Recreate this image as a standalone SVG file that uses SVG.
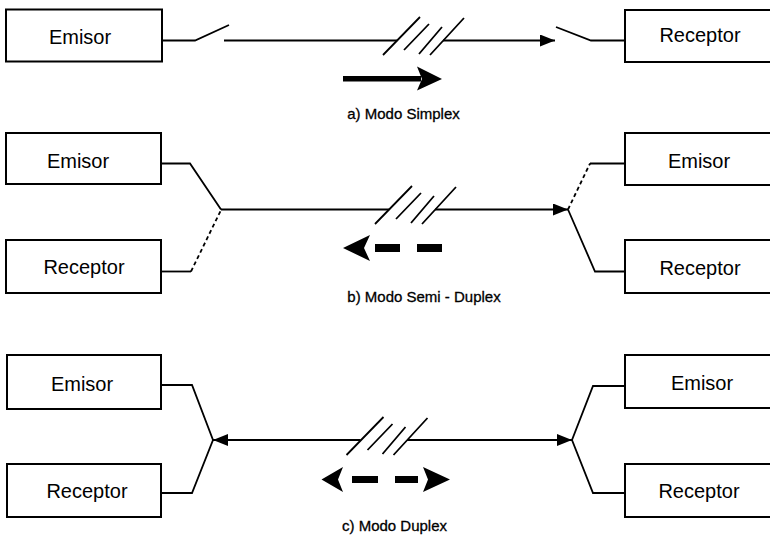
<svg xmlns="http://www.w3.org/2000/svg" width="770" height="539" viewBox="0 0 770 539">
<style>
.box{fill:#fff;stroke:#000;stroke-width:2}
.lbl{font-family:"Liberation Sans",Arial,sans-serif;font-size:20px;fill:#000;text-anchor:middle}
.cap{font-family:"Liberation Sans",Arial,sans-serif;font-size:15px;fill:#000;text-anchor:middle;stroke:#000;stroke-width:0.3}
.ln{fill:none;stroke:#000;stroke-width:1.8}
.dash{fill:none;stroke:#000;stroke-width:1.8;stroke-dasharray:4 3}
.big{fill:#000;stroke:none}
</style>
<defs>
<marker id="ah" markerUnits="userSpaceOnUse" markerWidth="16" markerHeight="13" refX="15" refY="6" orient="auto-start-reverse" viewBox="0 0 16 13">
<path d="M0,0 L15,6 L0,12 z" fill="#000"/>
</marker>
<g id="hatch" class="ln">
<path d="M0,0 L37,-38 M21,-5 L46,-31 M36,-1 L59,-28 M47,0 L81,-37"/>
</g>
</defs>

<rect width="770" height="539" fill="#fff"/>

<!-- a) Simplex -->
<g id="a-emisor"><rect class="box" x="6" y="9.5" width="156" height="52"/><text class="lbl" x="80" y="44">Emisor</text></g>
<g id="a-receptor"><rect class="box" x="625" y="10" width="150" height="52"/><text class="lbl" x="700" y="42">Receptor</text></g>

<!-- b) Semi-Duplex -->
<g id="b-emisor-l"><rect class="box" x="6" y="133" width="155" height="51"/><text class="lbl" x="78" y="168">Emisor</text></g>
<g id="b-receptor-l"><rect class="box" x="6" y="240" width="155" height="53"/><text class="lbl" x="84" y="274">Receptor</text></g>
<g id="b-emisor-r"><rect class="box" x="625" y="133" width="150" height="52"/><text class="lbl" x="699" y="168">Emisor</text></g>
<g id="b-receptor-r"><rect class="box" x="625" y="240" width="150" height="53"/><text class="lbl" x="700" y="275">Receptor</text></g>

<!-- c) Duplex -->
<g id="c-emisor-l"><rect class="box" x="7" y="355" width="154" height="54"/><text class="lbl" x="82" y="391">Emisor</text></g>
<g id="c-receptor-l"><rect class="box" x="7" y="464" width="154" height="53"/><text class="lbl" x="87" y="498">Receptor</text></g>
<g id="c-emisor-r"><rect class="box" x="625" y="355" width="150" height="53"/><text class="lbl" x="702" y="390">Emisor</text></g>
<g id="c-receptor-r"><rect class="box" x="625" y="464" width="150" height="53"/><text class="lbl" x="699" y="498">Receptor</text></g>

<g id="connectors">
<!-- a -->
<path class="ln" d="M162,40.5 L195,40.5 L229,25"/>
<path class="ln" d="M224,40.5 L397,40.5"/>
<use href="#hatch" x="383" y="55"/>
<path class="ln" d="M443,40.5 L555,40.5" marker-end="url(#ah)"/>
<path class="ln" d="M556,27 L591,40.5 L625,40.5"/>
<!-- b -->
<path class="ln" d="M161,163.5 L190,163.5 L221,209.5"/>
<path class="ln" d="M161,271.5 L191,271.5"/>
<path class="dash" d="M191,271.5 L221,210"/>
<path class="ln" d="M221,209.5 L389,209.5"/>
<use href="#hatch" x="375" y="224"/>
<path class="ln" d="M435,209.5 L568,209.5" marker-end="url(#ah)"/>
<path class="dash" d="M568,209.5 L590,163.5"/>
<path class="ln" d="M590,163.5 L625,163.5"/>
<path class="ln" d="M568,209.5 L595,271.5 L625,271.5"/>
<!-- c -->
<path class="ln" d="M161,385 L192,385 L213,440 L192,493 L161,493"/>
<path class="ln" d="M213,440 L360.5,440" marker-start="url(#ah)"/>
<use href="#hatch" x="346.5" y="455"/>
<path class="ln" d="M407,440 L572,440" marker-end="url(#ah)"/>
<path class="ln" d="M625,386 L593,386 L572,440 L593,493 L625,493"/>
</g>

<g id="direction-arrows">
<rect class="big" x="343" y="76" width="78" height="5.5"/>
<path class="big" d="M417,66.5 L442,79 L417,90.5 L422,79 z"/>
<path class="big" d="M343,248 L370,235 L364,248 L370,261 z"/>
<rect class="big" x="375" y="244" width="25" height="8"/>
<rect class="big" x="417" y="244" width="25" height="8"/>
<path class="big" d="M321.5,479.5 L343,467 L338,479.5 L343,492 z"/>
<rect class="big" x="352" y="476" width="26" height="7"/>
<rect class="big" x="395" y="476" width="23" height="7"/>
<path class="big" d="M450,479.5 L423,467 L428,479.5 L423,492 z"/>
</g>

<text class="cap" x="403.5" y="119">a) Modo Simplex</text>
<text class="cap" x="424" y="302">b) Modo Semi - Duplex</text>
<text class="cap" x="394.5" y="531">c) Modo Duplex</text>
</svg>
